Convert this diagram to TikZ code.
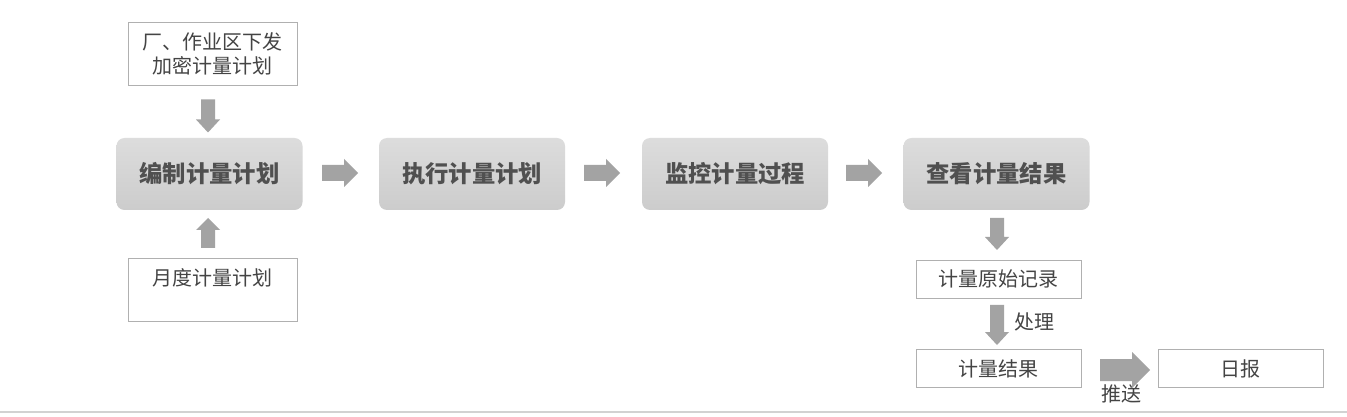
\documentclass[tikz,border=0pt]{standalone}
\usepackage{fontspec}
\newfontfamily\cjk[BoldFont={Noto Sans CJK SC Black}]{Noto Sans CJK SC}
\definecolor{arrowgray}{HTML}{A3A3A3}
\definecolor{boxline}{HTML}{B0B0B0}
\definecolor{txt}{HTML}{444444}
\definecolor{maintxt}{HTML}{505050}
\tikzset{
  mainbox/.style={rounded corners=6pt, top color=gray!27, bottom color=gray!40,
    draw=none, minimum width=139.5pt, minimum height=54pt, inner sep=0pt,
    font=\cjk\bfseries\fontsize{17.5}{20}\selectfont, text=maintxt},
  plainbox/.style={draw=boxline, line width=0.6pt, fill=white, minimum width=123.75pt,
    minimum height=28.5pt, inner sep=0pt, font=\cjk\fontsize{15}{18}\selectfont, text=txt, align=center},
  lbl/.style={font=\cjk\fontsize{15}{18}\selectfont, text=txt, inner sep=0pt},
  pics/blockarrow/.style n args={4}{code={
    \fill[arrowgray] (-#1/2,-#2) -- (#1/2-#4,-#2) -- (#1/2-#4,-#3) -- (#1/2,0)
      -- (#1/2-#4,#3) -- (#1/2-#4,#2) -- (-#1/2,#2) -- cycle;}}
}
\begin{document}
\begin{tikzpicture}[x=0.75pt,y=-0.75pt]
\useasboundingbox (0,0) rectangle (1347,417);
\fill[white] (0,0) rectangle (1347,417);
\draw[gray!35, line width=0.8pt] (0,412) -- (1347,412);

% main boxes
\node[mainbox] (b1) at (209.5,174) {编制计量计划};
\node[mainbox] (b2) at (472,174) {执行计量计划};
\node[mainbox] (b3) at (735,174) {监控计量过程};
\node[mainbox] (b4) at (996.5,174) {查看计量结果};

% side boxes
\node[plainbox, minimum width=126.75pt, minimum height=47.25pt] (top) at (212.5,53.5) {厂、作业区下发\\加密计量计划};
\node[plainbox, minimum width=126.75pt, minimum height=47.25pt] (bot) at (212.5,289.5) {月度计量计划\\~};
\node[plainbox] (raw) at (998.5,279) {计量原始记录};
\node[plainbox] (res) at (998.5,368.5) {计量结果};
\node[plainbox] (day) at (1240.5,368.5) {日报};

% arrows
\pic at (340,173) {blockarrow={36}{8}{14}{14}};
\pic at (602,173) {blockarrow={36}{8}{14}{14}};
\pic at (864,173) {blockarrow={36}{8}{14}{14}};
\pic[rotate=-90] at (208,116) {blockarrow={33}{7}{12}{13}};
\pic[rotate=90] at (208,233) {blockarrow={30}{7}{12}{12}};
\pic[rotate=-90] at (997,234) {blockarrow={32}{7}{12}{13}};
\pic[rotate=-90] at (997,325) {blockarrow={40}{7}{12}{13}};
\pic at (1125,370) {blockarrow={50}{11}{18}{18}};

\node[lbl] (l1) at (1034,322) {处理};
\node[lbl] (l2) at (1121,394) {推送};
\end{tikzpicture}
\end{document}
